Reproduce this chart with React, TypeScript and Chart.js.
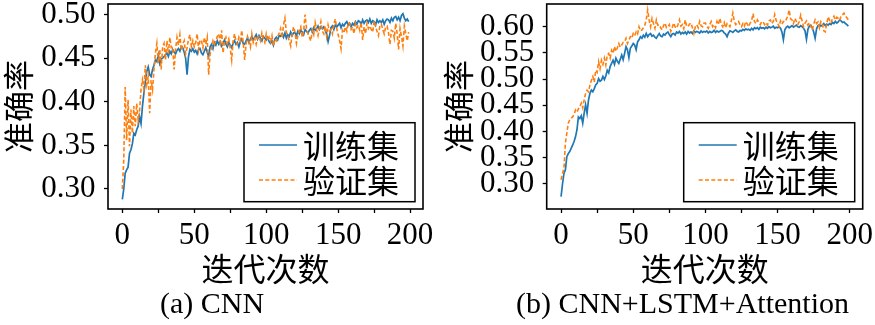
import React, { useEffect, useRef } from 'react';
import { Chart, registerables } from 'chart.js';

Chart.register(...registerables);

// ---------- data ----------
const iterations: number[] = Array.from({ length: 200 }, (_, i) => i);

const seriesLabels = ['训练集', '验证集'];
const xTickValues = [0, 25, 50, 75, 100, 125, 150, 175, 200];
const cnnYTicks = [0.3, 0.35, 0.4, 0.45, 0.5];
const hybYTicks = [0.3, 0.35, 0.4, 0.45, 0.5, 0.55, 0.6];
const captions = ['(a) CNN', '(b) CNN+LSTM+Attention'];
const xTitle = '迭代次数';
const yTitle = '准确率';

const cnnTrain = [
  0.288, 0.300, 0.318, 0.322, 0.325, 0.341, 0.345, 0.352, 0.364, 0.362,
  0.368, 0.372, 0.383, 0.375, 0.395, 0.410, 0.423, 0.435, 0.440, 0.431,
  0.429, 0.437, 0.442, 0.448, 0.446, 0.454, 0.444, 0.449, 0.450, 0.452,
  0.454, 0.456, 0.452, 0.458, 0.455, 0.460, 0.457, 0.455, 0.459, 0.461,
  0.458, 0.463, 0.462, 0.457, 0.450, 0.431, 0.452, 0.460, 0.458, 0.461,
  0.457, 0.459, 0.455, 0.460, 0.461, 0.456, 0.454, 0.458, 0.462, 0.457,
  0.452, 0.463, 0.466, 0.461, 0.468, 0.465, 0.470, 0.466, 0.469, 0.464,
  0.467, 0.471, 0.466, 0.463, 0.468, 0.465, 0.462, 0.467, 0.470, 0.466,
  0.468, 0.463, 0.469, 0.472, 0.467, 0.466, 0.470, 0.473, 0.468, 0.472,
  0.475, 0.471, 0.474, 0.477, 0.472, 0.476, 0.473, 0.470, 0.475, 0.473,
  0.471, 0.474, 0.469, 0.467, 0.470, 0.465, 0.472, 0.474, 0.471, 0.476,
  0.475, 0.478, 0.474, 0.479, 0.473, 0.477, 0.475, 0.480, 0.476, 0.479,
  0.479, 0.476, 0.481, 0.478, 0.482, 0.480, 0.477, 0.483, 0.481, 0.479,
  0.482, 0.484, 0.480, 0.485, 0.482, 0.484, 0.487, 0.483, 0.486, 0.484,
  0.486, 0.482, 0.478, 0.469, 0.476, 0.485, 0.487, 0.483, 0.488, 0.486,
  0.488, 0.490, 0.485, 0.489, 0.487, 0.490, 0.492, 0.488, 0.490, 0.486,
  0.490, 0.488, 0.492, 0.489, 0.493, 0.492, 0.489, 0.494, 0.490, 0.493,
  0.494, 0.491, 0.495, 0.490, 0.493, 0.492, 0.488, 0.494, 0.491, 0.493,
  0.491, 0.494, 0.489, 0.493, 0.495, 0.494, 0.491, 0.496, 0.493, 0.497,
  0.498, 0.494, 0.497, 0.493, 0.499, 0.501, 0.496, 0.493, 0.495, 0.492,
];

const cnnVal = [
  0.300, 0.333, 0.417, 0.356, 0.402, 0.349, 0.391, 0.364, 0.395, 0.372,
  0.398, 0.379, 0.390, 0.414, 0.425, 0.415, 0.442, 0.420, 0.429, 0.387,
  0.425, 0.414, 0.437, 0.456, 0.467, 0.444, 0.460, 0.437, 0.463, 0.467,
  0.448, 0.470, 0.455, 0.474, 0.462, 0.463, 0.437, 0.460, 0.474, 0.465,
  0.477, 0.459, 0.466, 0.470, 0.455, 0.462, 0.472, 0.477, 0.463, 0.470,
  0.463, 0.468, 0.478, 0.460, 0.471, 0.470, 0.462, 0.474, 0.466, 0.474,
  0.431, 0.455, 0.460, 0.470, 0.466, 0.470, 0.475, 0.478, 0.468, 0.482,
  0.456, 0.470, 0.474, 0.467, 0.472, 0.461, 0.448, 0.470, 0.478, 0.469,
  0.466, 0.474, 0.470, 0.482, 0.468, 0.448, 0.466, 0.475, 0.470, 0.463,
  0.478, 0.468, 0.473, 0.466, 0.474, 0.475, 0.470, 0.479, 0.472, 0.468,
  0.478, 0.470, 0.474, 0.469, 0.476, 0.464, 0.472, 0.470, 0.475, 0.479,
  0.484, 0.473, 0.488, 0.496, 0.480, 0.475, 0.470, 0.464, 0.478, 0.486,
  0.480, 0.467, 0.476, 0.482, 0.486, 0.474, 0.481, 0.500, 0.484, 0.478,
  0.474, 0.470, 0.482, 0.477, 0.491, 0.483, 0.476, 0.484, 0.492, 0.481,
  0.478, 0.487, 0.475, 0.488, 0.481, 0.483, 0.478, 0.489, 0.495, 0.484,
  0.477, 0.470, 0.461, 0.482, 0.479, 0.486, 0.481, 0.491, 0.489, 0.483,
  0.486, 0.478, 0.490, 0.485, 0.488, 0.482, 0.491, 0.471, 0.486, 0.478,
  0.490, 0.484, 0.487, 0.483, 0.480, 0.493, 0.486, 0.481, 0.476, 0.487,
  0.489, 0.483, 0.478, 0.486, 0.487, 0.479, 0.466, 0.482, 0.481, 0.473,
  0.490, 0.478, 0.460, 0.484, 0.475, 0.464, 0.487, 0.478, 0.470, 0.480,
];

const hybTrain = [
  0.276, 0.300, 0.320, 0.327, 0.352, 0.358, 0.362, 0.368, 0.374, 0.381,
  0.390, 0.403, 0.428, 0.425, 0.430, 0.416, 0.435, 0.451, 0.435, 0.460,
  0.473, 0.479, 0.476, 0.482, 0.489, 0.492, 0.501, 0.496, 0.498, 0.505,
  0.499, 0.506, 0.517, 0.512, 0.524, 0.530, 0.536, 0.528, 0.540, 0.534,
  0.530, 0.538, 0.546, 0.537, 0.549, 0.562, 0.556, 0.541, 0.559, 0.563,
  0.568, 0.565, 0.556, 0.571, 0.575, 0.581, 0.578, 0.584, 0.580, 0.587,
  0.581, 0.585, 0.587, 0.582, 0.584, 0.580, 0.578, 0.583, 0.587, 0.582,
  0.581, 0.586, 0.584, 0.588, 0.590, 0.585, 0.581, 0.586, 0.587, 0.584,
  0.590, 0.588, 0.591, 0.586, 0.589, 0.587, 0.590, 0.586, 0.591, 0.588,
  0.590, 0.587, 0.592, 0.589, 0.591, 0.590, 0.588, 0.592, 0.589, 0.591,
  0.590, 0.592, 0.588, 0.591, 0.589, 0.590, 0.593, 0.589, 0.592, 0.590,
  0.591, 0.593, 0.592, 0.588, 0.586, 0.581, 0.588, 0.592, 0.591, 0.589,
  0.592, 0.594, 0.591, 0.590, 0.593, 0.592, 0.595, 0.593, 0.596, 0.594,
  0.595, 0.593, 0.597, 0.594, 0.598, 0.596, 0.598, 0.595, 0.599, 0.597,
  0.598, 0.596, 0.599, 0.597, 0.600, 0.598, 0.599, 0.601, 0.597, 0.599,
  0.598, 0.600, 0.597, 0.590, 0.575, 0.594, 0.599, 0.601, 0.598, 0.600,
  0.602, 0.599, 0.601, 0.603, 0.600, 0.599, 0.602, 0.600, 0.597, 0.592,
  0.576, 0.595, 0.601, 0.603, 0.598, 0.590, 0.578, 0.596, 0.602, 0.604,
  0.601, 0.603, 0.606, 0.602, 0.605, 0.603, 0.606, 0.604, 0.608, 0.606,
  0.610, 0.607, 0.609, 0.613, 0.611, 0.608, 0.609, 0.606, 0.604, 0.601,
];

const hybVal = [
  0.308, 0.320, 0.330, 0.378, 0.397, 0.416, 0.422, 0.425, 0.428, 0.432,
  0.441, 0.437, 0.443, 0.447, 0.454, 0.445, 0.460, 0.473, 0.479, 0.476,
  0.489, 0.498, 0.505, 0.494, 0.517, 0.513, 0.533, 0.520, 0.536, 0.528,
  0.540, 0.527, 0.546, 0.549, 0.540, 0.555, 0.549, 0.562, 0.553, 0.560,
  0.568, 0.561, 0.565, 0.570, 0.571, 0.578, 0.568, 0.575, 0.581, 0.578,
  0.587, 0.583, 0.590, 0.586, 0.600, 0.592, 0.594, 0.598, 0.603, 0.613,
  0.632, 0.613, 0.600, 0.616, 0.606, 0.597, 0.613, 0.603, 0.604, 0.598,
  0.594, 0.602, 0.607, 0.598, 0.600, 0.604, 0.591, 0.598, 0.607, 0.600,
  0.597, 0.604, 0.613, 0.601, 0.604, 0.596, 0.613, 0.601, 0.600, 0.605,
  0.607, 0.598, 0.587, 0.600, 0.604, 0.598, 0.610, 0.602, 0.600, 0.607,
  0.607, 0.601, 0.597, 0.604, 0.610, 0.600, 0.604, 0.598, 0.610, 0.604,
  0.616, 0.605, 0.600, 0.608, 0.598, 0.606, 0.603, 0.600, 0.612, 0.626,
  0.610, 0.604, 0.607, 0.610, 0.603, 0.600, 0.606, 0.601, 0.610, 0.605,
  0.600, 0.607, 0.612, 0.625, 0.610, 0.606, 0.613, 0.608, 0.604, 0.610,
  0.609, 0.604, 0.608, 0.603, 0.611, 0.613, 0.606, 0.610, 0.623, 0.612,
  0.607, 0.600, 0.611, 0.605, 0.610, 0.609, 0.614, 0.620, 0.632, 0.615,
  0.613, 0.606, 0.616, 0.610, 0.604, 0.610, 0.622, 0.611, 0.600, 0.607,
  0.611, 0.603, 0.608, 0.601, 0.594, 0.605, 0.613, 0.606, 0.609, 0.598,
  0.610, 0.606, 0.592, 0.590, 0.605, 0.619, 0.612, 0.607, 0.616, 0.620,
  0.613, 0.618, 0.616, 0.612, 0.621, 0.623, 0.626, 0.620, 0.617, 0.613,
];

// ---------- styling ----------
const BLUE = '#1f77b4';
const ORANGE = '#ff7f0e';
const SERIF = "'Liberation Serif', 'Times New Roman', 'DejaVu Serif', serif";
const CJK = "'Noto Sans CJK SC', 'Noto Sans', sans-serif";

const frameLegendPlugin = {
  id: 'frameLegend',
  afterDatasetsDraw(chart: any) {
    const { ctx, chartArea: ca } = chart;
    ctx.save();
    ctx.setLineDash([]);
    ctx.strokeStyle = '#000';
    ctx.lineWidth = 1.6;
    ctx.strokeRect(ca.left, ca.top, ca.right - ca.left, ca.bottom - ca.top);

    const w = 171;
    const h = 79;
    const bx = ca.right - 8 - w;
    const by = ca.bottom - 7.3 - h;
    ctx.fillStyle = 'rgba(255,255,255,0.85)';
    ctx.fillRect(bx, by, w, h);
    ctx.lineWidth = 1.5;
    ctx.strokeStyle = '#000';
    ctx.strokeRect(bx, by, w, h);

    chart.data.datasets.forEach((ds: any, k: number) => {
      const ly = by + 22.3 + k * 35;
      ctx.strokeStyle = ds.borderColor;
      ctx.lineWidth = ds.borderWidth;
      ctx.setLineDash(ds.borderDash || []);
      ctx.beginPath();
      ctx.moveTo(bx + 15, ly);
      ctx.lineTo(bx + 53, ly);
      ctx.stroke();
      ctx.setLineDash([]);
      ctx.fillStyle = '#000';
      ctx.font = `32px ${CJK}`;
      ctx.textBaseline = 'middle';
      ctx.textAlign = 'left';
      ctx.fillText(ds.label, bx + 59, ly + 1);
    });
    ctx.restore();
  },
};

interface PanelCfg {
  train: number[];
  val: number[];
  yMin: number;
  yMax: number;
  yTicks: number[];
  yAxisWidth: number;
  yTitlePad: number;
  padRight: number;
}

function buildConfig(cfg: PanelCfg): any {
  const toPts = (arr: number[]) => arr.map((y, i) => ({ x: iterations[i], y }));
  return {
    type: 'line',
    data: {
      datasets: [
        {
          label: seriesLabels[0],
          data: toPts(cfg.train),
          borderColor: BLUE,
          backgroundColor: BLUE,
          borderWidth: 1.7,
          pointRadius: 0,
          tension: 0,
          fill: false,
          order: 1,
        },
        {
          label: seriesLabels[1],
          data: toPts(cfg.val),
          borderColor: ORANGE,
          backgroundColor: ORANGE,
          borderWidth: 1.6,
          borderDash: [4, 2.3],
          pointRadius: 0,
          tension: 0,
          fill: false,
          order: 0,
        },
      ],
    },
    options: {
      responsive: false,
      animation: false,
      devicePixelRatio: 1,
      events: [],
      layout: {
        autoPadding: false,
        padding: { left: 0, top: 4, right: cfg.padRight, bottom: 37 },
      },
      plugins: {
        legend: { display: false },
        tooltip: { enabled: false },
        title: { display: false },
      },
      scales: {
        x: {
          type: 'linear',
          position: 'bottom',
          min: -9.95,
          max: 208.95,
          afterBuildTicks: (scale: any) => {
            scale.ticks = xTickValues.map((v) => ({ value: v }));
          },
          afterFit: (scale: any) => {
            scale.height = 79;
            scale.paddingLeft = 0;
            scale.paddingRight = 0;
            scale.paddingTop = 0;
            scale.paddingBottom = 0;
          },
          grid: {
            display: true,
            drawOnChartArea: false,
            drawTicks: true,
            tickLength: 4,
            tickWidth: 1.3,
            tickColor: '#000',
          },
          border: { display: false },
          ticks: {
            autoSkip: false,
            maxRotation: 0,
            minRotation: 0,
            padding: 4,
            color: '#000',
            font: { family: SERIF, size: 31, lineHeight: 1.2 },
            callback: (v: any) => (Number(v) % 50 === 0 ? String(v) : ''),
          },
          title: {
            display: true,
            text: xTitle,
            color: '#000',
            font: { family: CJK, size: 32, lineHeight: 1.2 },
            padding: { top: 0, bottom: 0 },
          },
        },
        y: {
          type: 'linear',
          position: 'left',
          min: cfg.yMin,
          max: cfg.yMax,
          afterBuildTicks: (scale: any) => {
            scale.ticks = cfg.yTicks.map((v) => ({ value: v }));
          },
          afterFit: (scale: any) => {
            scale.width = cfg.yAxisWidth;
            scale.paddingLeft = 0;
            scale.paddingRight = 0;
            scale.paddingTop = 0;
            scale.paddingBottom = 0;
          },
          grid: {
            display: true,
            drawOnChartArea: false,
            drawTicks: true,
            tickLength: 4,
            tickWidth: 1.3,
            tickColor: '#000',
          },
          border: { display: false },
          ticks: {
            autoSkip: false,
            padding: 8.5,
            color: '#000',
            font: { family: SERIF, size: 31, lineHeight: 1.2 },
            callback: (v: any) => Number(v).toFixed(2),
          },
          title: {
            display: true,
            text: yTitle,
            color: '#000',
            font: { family: CJK, size: 31, lineHeight: 1.2 },
            padding: { top: cfg.yTitlePad, bottom: 0 },
          },
        },
      },
    },
    plugins: [frameLegendPlugin],
  };
}

function Panel(props: { cfg: PanelCfg; left: number; width: number }) {
  const ref = useRef<HTMLCanvasElement | null>(null);
  useEffect(() => {
    if (!ref.current) return;
    const chart = new Chart(ref.current, buildConfig(props.cfg));
    return () => chart.destroy();
  }, []);
  return (
    <canvas
      ref={ref}
      width={props.width}
      height={325}
      style={{ position: 'absolute', left: props.left, top: 0, width: props.width, height: 325 }}
    />
  );
}

const cnnCfg: PanelCfg = {
  train: cnnTrain,
  val: cnnVal,
  yMin: 0.277,
  yMax: 0.5122,
  yTicks: cnnYTicks,
  yAxisWidth: 108,
  yTitlePad: 0,
  padRight: 14,
};

const hybCfg: PanelCfg = {
  train: hybTrain,
  val: hybVal,
  yMin: 0.2523,
  yMax: 0.6433,
  yTicks: hybYTicks,
  yAxisWidth: 108.7,
  yTitlePad: 2,
  padRight: 12.3,
};

const captionStyle: React.CSSProperties = {
  position: 'absolute',
  top: 288,
  fontFamily: SERIF,
  fontSize: 30,
  lineHeight: '30px',
  whiteSpace: 'nowrap',
  color: '#000',
};

export default function App() {
  return (
    <div
      style={{
        position: 'absolute',
        left: 0,
        top: 0,
        width: 875,
        height: 325,
        background: '#fff',
        overflow: 'hidden',
      }}
    >
      <Panel cfg={cnnCfg} left={0} width={437} />
      <Panel cfg={hybCfg} left={438} width={437} />
      <div style={{ ...captionStyle, left: 160 }}>{captions[0]}</div>
      <div style={{ ...captionStyle, left: 516 }}>{captions[1]}</div>
    </div>
  );
}
